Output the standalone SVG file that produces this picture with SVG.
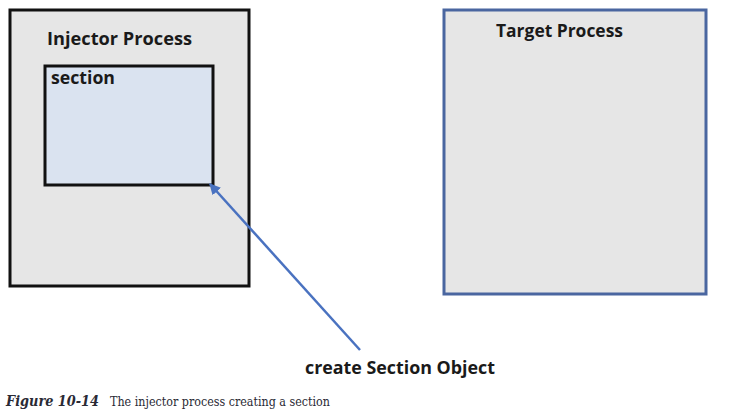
<svg xmlns="http://www.w3.org/2000/svg" width="730" height="411" viewBox="0 0 730 411">
<defs>
<style>
.lbl{font-family:"Open Sans","Liberation Sans",sans-serif;font-weight:bold;fill:#1a1a1a}
.cap{font-family:"DejaVu Serif","Liberation Serif",serif;fill:#2a2a35}
</style>
<marker id="ah" viewBox="0 0 10 10" refX="9" refY="5" markerWidth="4.5" markerHeight="4.5" orient="auto-start-reverse" markerUnits="strokeWidth">
<path d="M0,0 L10,5 L0,10 z" fill="#4a72c0"/>
</marker>
</defs>
<rect width="730" height="411" fill="#fff"/>
<g id="injector">
<rect x="10" y="10" width="239" height="276" fill="#e6e6e6" stroke="#111" stroke-width="3"/>
<text class="lbl" x="47" y="45" font-size="17.5" textLength="145" lengthAdjust="spacingAndGlyphs">Injector  Process</text>
</g>
<g id="section">
<rect x="45" y="66" width="168" height="119" fill="#dae3f0" stroke="#111" stroke-width="3"/>
<text class="lbl" x="51" y="84" font-size="17.5" textLength="64" lengthAdjust="spacingAndGlyphs">section</text>
</g>
<g id="target">
<rect x="444" y="10" width="262" height="284" fill="#e6e6e6" stroke="#4a66a0" stroke-width="3"/>
<text class="lbl" x="496" y="37" font-size="17.5" textLength="127" lengthAdjust="spacingAndGlyphs">Target Process</text>
</g>
<g id="connectors">
<line x1="360" y1="350" x2="210" y2="184" stroke="#4a72c0" stroke-width="2.5" marker-end="url(#ah)"/>
</g>
<g id="label">
<text class="lbl" x="305" y="374" font-size="17.5" textLength="190" lengthAdjust="spacingAndGlyphs">create Section Object</text>
</g>
<g id="caption">
<text class="cap" x="6" y="406" font-size="14.5" font-weight="bold" font-style="italic" textLength="93" lengthAdjust="spacingAndGlyphs">Figure 10-14</text>
<text class="cap" x="110" y="406" font-size="12.5" textLength="220" lengthAdjust="spacingAndGlyphs">The injector process creating a section</text>
</g>
</svg>
